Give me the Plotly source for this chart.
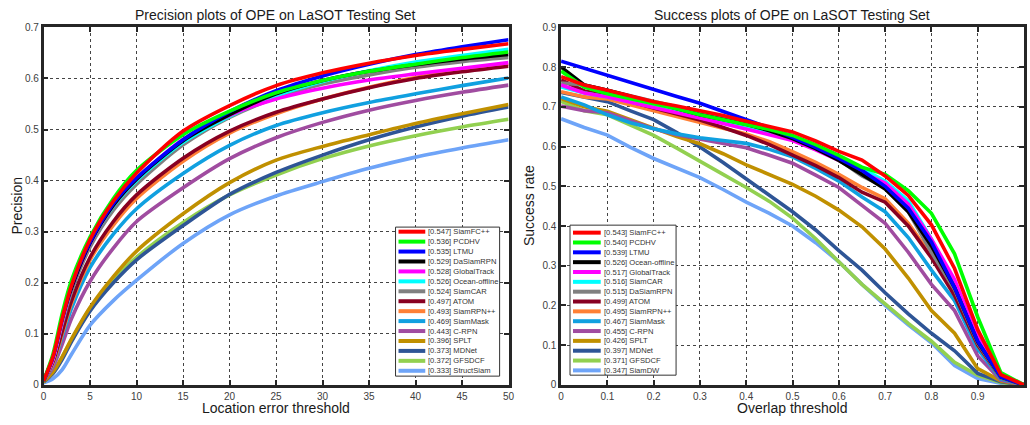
import plotly.graph_objects as go
from plotly.subplots import make_subplots

W, H = 1030, 425

# ---------------- Precision plot data ----------------
prec_x = [0, 1, 2, 3, 5, 7.5, 10, 15, 20, 25, 30, 35, 40, 45, 50]
prec_names = ["SiamFC++", "PCDHV", "LTMU", "DaSiamRPN", "GlobalTrack", "Ocean-offline",
              "SiamCAR", "ATOM", "SiamRPN++", "SiamMask", "C-RPN", "SPLT", "MDNet",
              "GFSDCF", "StructSiam"]
prec_scores = [0.547, 0.536, 0.535, 0.529, 0.528, 0.526, 0.524, 0.497, 0.493, 0.469,
               0.443, 0.396, 0.373, 0.372, 0.333]
prec_SiamFCpp = [0.008, 0.055, 0.13, 0.195, 0.285, 0.36, 0.415, 0.497, 0.547, 0.586, 0.611, 0.630, 0.645, 0.657, 0.668]
prec_PCDHV = [0.008, 0.06, 0.14, 0.205, 0.29, 0.365, 0.42, 0.490, 0.536, 0.572, 0.596, 0.614, 0.628, 0.641, 0.652]
prec_LTMU = [0.008, 0.055, 0.13, 0.195, 0.28, 0.355, 0.405, 0.480, 0.535, 0.576, 0.605, 0.628, 0.647, 0.662, 0.676]
prec_DaSiamRPN = [0.008, 0.055, 0.13, 0.19, 0.278, 0.352, 0.403, 0.478, 0.529, 0.570, 0.596, 0.614, 0.627, 0.638, 0.647]
prec_GlobalTrack = [0.008, 0.05, 0.125, 0.19, 0.277, 0.352, 0.403, 0.481, 0.528, 0.560, 0.581, 0.597, 0.609, 0.620, 0.631]
prec_Ocean = [0.008, 0.05, 0.125, 0.19, 0.277, 0.35, 0.400, 0.475, 0.526, 0.566, 0.594, 0.615, 0.632, 0.645, 0.657]
prec_SiamCAR = [0.008, 0.05, 0.12, 0.183, 0.27, 0.342, 0.393, 0.470, 0.524, 0.562, 0.589, 0.607, 0.622, 0.633, 0.641]
prec_ATOM = [0.008, 0.045, 0.105, 0.165, 0.25, 0.32, 0.372, 0.444, 0.497, 0.534, 0.560, 0.582, 0.600, 0.613, 0.624]
prec_SiamRPNpp = [0.008, 0.042, 0.10, 0.16, 0.245, 0.313, 0.365, 0.438, 0.493, 0.531, 0.560, 0.583, 0.602, 0.616, 0.628]
prec_SiamMask = [0.008, 0.04, 0.095, 0.15, 0.23, 0.295, 0.345, 0.414, 0.469, 0.508, 0.533, 0.553, 0.570, 0.586, 0.601]
prec_CRPN = [0.008, 0.035, 0.08, 0.13, 0.203, 0.268, 0.320, 0.386, 0.443, 0.484, 0.514, 0.538, 0.557, 0.573, 0.587]
prec_SPLT = [0.006, 0.025, 0.055, 0.09, 0.152, 0.212, 0.262, 0.335, 0.396, 0.440, 0.467, 0.490, 0.512, 0.531, 0.549]
prec_MDNet = [0.006, 0.022, 0.05, 0.085, 0.145, 0.20, 0.245, 0.312, 0.373, 0.416, 0.450, 0.480, 0.505, 0.526, 0.544]
prec_GFSDCF = [0.006, 0.025, 0.055, 0.088, 0.15, 0.205, 0.25, 0.318, 0.372, 0.411, 0.443, 0.468, 0.488, 0.505, 0.520]
prec_StructSiam = [0.004, 0.012, 0.03, 0.06, 0.117, 0.165, 0.205, 0.277, 0.333, 0.370, 0.398, 0.424, 0.446, 0.464, 0.480]
prec_values = [prec_SiamFCpp, prec_PCDHV, prec_LTMU, prec_DaSiamRPN, prec_GlobalTrack, prec_Ocean,
               prec_SiamCAR, prec_ATOM, prec_SiamRPNpp, prec_SiamMask, prec_CRPN, prec_SPLT,
               prec_MDNet, prec_GFSDCF, prec_StructSiam]

# ---------------- Success plot data ----------------
succ_x = [0, 0.05, 0.1, 0.15, 0.2, 0.25, 0.3, 0.35, 0.4, 0.45, 0.5, 0.55, 0.6, 0.65, 0.7,
          0.75, 0.8, 0.85, 0.9, 0.95, 1.0]
succ_names = ["SiamFC++", "PCDHV", "LTMU", "Ocean-offline", "GlobalTrack", "SiamCAR",
              "DaSiamRPN", "ATOM", "SiamRPN++", "SiamMask", "C-RPN", "SPLT", "MDNet",
              "GFSDCF", "SiamDW"]
succ_scores = [0.543, 0.540, 0.539, 0.526, 0.517, 0.516, 0.515, 0.499, 0.495, 0.467,
               0.455, 0.426, 0.397, 0.371, 0.347]
succ_SiamFCpp = [0.776, 0.755, 0.742, 0.728, 0.713, 0.702, 0.691, 0.678, 0.664, 0.651, 0.637, 0.614, 0.588, 0.566, 0.526, 0.477, 0.403, 0.293, 0.139, 0.026, 0.0]
succ_PCDHV = [0.790, 0.750, 0.733, 0.721, 0.709, 0.695, 0.680, 0.668, 0.656, 0.643, 0.628, 0.605, 0.578, 0.548, 0.530, 0.489, 0.432, 0.330, 0.171, 0.031, 0.0]
succ_LTMU = [0.815, 0.797, 0.778, 0.760, 0.743, 0.726, 0.709, 0.689, 0.668, 0.647, 0.623, 0.598, 0.570, 0.540, 0.500, 0.445, 0.360, 0.245, 0.110, 0.020, 0.0]
succ_Ocean = [0.800, 0.755, 0.742, 0.726, 0.710, 0.695, 0.680, 0.668, 0.656, 0.640, 0.620, 0.595, 0.565, 0.530, 0.493, 0.436, 0.350, 0.245, 0.108, 0.020, 0.0]
succ_GlobalTrack = [0.755, 0.735, 0.725, 0.712, 0.700, 0.685, 0.672, 0.658, 0.645, 0.630, 0.615, 0.592, 0.565, 0.535, 0.508, 0.455, 0.367, 0.265, 0.122, 0.026, 0.0]
succ_SiamCAR = [0.750, 0.735, 0.725, 0.713, 0.702, 0.688, 0.673, 0.660, 0.650, 0.636, 0.620, 0.598, 0.575, 0.545, 0.513, 0.464, 0.367, 0.253, 0.110, 0.020, 0.0]
succ_DaSiamRPN = [0.760, 0.755, 0.742, 0.728, 0.713, 0.698, 0.685, 0.672, 0.660, 0.642, 0.623, 0.597, 0.567, 0.526, 0.497, 0.436, 0.334, 0.240, 0.105, 0.018, 0.0]
succ_ATOM = [0.768, 0.740, 0.729, 0.712, 0.697, 0.682, 0.667, 0.648, 0.628, 0.605, 0.579, 0.552, 0.522, 0.485, 0.460, 0.400, 0.320, 0.225, 0.100, 0.018, 0.0]
succ_SiamRPNpp = [0.738, 0.725, 0.720, 0.705, 0.689, 0.675, 0.660, 0.646, 0.632, 0.612, 0.587, 0.560, 0.530, 0.497, 0.469, 0.407, 0.326, 0.232, 0.100, 0.018, 0.0]
succ_SiamMask = [0.725, 0.705, 0.680, 0.660, 0.645, 0.632, 0.622, 0.615, 0.608, 0.593, 0.574, 0.545, 0.513, 0.473, 0.436, 0.371, 0.289, 0.212, 0.090, 0.015, 0.0]
succ_CRPN = [0.702, 0.690, 0.685, 0.665, 0.645, 0.630, 0.619, 0.608, 0.597, 0.578, 0.558, 0.528, 0.497, 0.452, 0.407, 0.334, 0.253, 0.187, 0.073, 0.012, 0.0]
succ_SPLT = [0.721, 0.700, 0.689, 0.667, 0.645, 0.625, 0.607, 0.582, 0.554, 0.530, 0.505, 0.475, 0.440, 0.398, 0.342, 0.269, 0.187, 0.130, 0.041, 0.010, 0.0]
succ_MDNet = [0.736, 0.725, 0.713, 0.690, 0.668, 0.635, 0.599, 0.560, 0.518, 0.478, 0.436, 0.390, 0.338, 0.289, 0.232, 0.179, 0.130, 0.086, 0.029, 0.008, 0.0]
succ_GFSDCF = [0.714, 0.690, 0.680, 0.655, 0.628, 0.596, 0.562, 0.530, 0.497, 0.462, 0.420, 0.368, 0.310, 0.253, 0.204, 0.155, 0.110, 0.057, 0.024, 0.006, 0.0]
succ_SiamDW = [0.670, 0.648, 0.629, 0.598, 0.570, 0.546, 0.522, 0.492, 0.460, 0.432, 0.400, 0.358, 0.310, 0.253, 0.200, 0.151, 0.106, 0.049, 0.016, 0.004, 0.0]
succ_values = [succ_SiamFCpp, succ_PCDHV, succ_LTMU, succ_Ocean, succ_GlobalTrack, succ_SiamCAR,
               succ_DaSiamRPN, succ_ATOM, succ_SiamRPNpp, succ_SiamMask, succ_CRPN, succ_SPLT,
               succ_MDNet, succ_GFSDCF, succ_SiamDW]

# rank colours (same order in both panels)
colors = ["#FF0000", "#00FF00", "#0000FF", "#000000", "#FF00FF", "#00FFFF", "#808080",
          "#880022", "#FF8035", "#10A0E0", "#A04CA0", "#C09000", "#2E5596", "#92D050",
          "#6EA4F8"]

prec_xticks = [0, 5, 10, 15, 20, 25, 30, 35, 40, 45, 50]
prec_yticks = [0, 0.1, 0.2, 0.3, 0.4, 0.5, 0.6, 0.7]
succ_xticks = [0, 0.1, 0.2, 0.3, 0.4, 0.5, 0.6, 0.7, 0.8, 0.9, 1.0]
succ_xticklabels = ["0", "0.1", "0.2", "0.3", "0.4", "0.5", "0.6", "0.7", "0.8", "0.9", ""]
succ_yticks = [0, 0.1, 0.2, 0.3, 0.4, 0.5, 0.6, 0.7, 0.8, 0.9]

FONT = "Liberation Sans, Arial, Helvetica, sans-serif"

fig = make_subplots(rows=1, cols=2)

LW = 3.6
for i in reversed(range(len(prec_names))):
    fig.add_trace(go.Scatter(x=prec_x, y=prec_values[i], mode="lines",
                             line=dict(color=colors[i], width=LW, shape="spline", smoothing=0.8),
                             name=prec_names[i], showlegend=False, hoverinfo="skip"), row=1, col=1)
for i in reversed(range(len(succ_names))):
    fig.add_trace(go.Scatter(x=succ_x, y=succ_values[i], mode="lines",
                             line=dict(color=colors[i], width=LW),
                             name=succ_names[i], showlegend=False, hoverinfo="skip"), row=1, col=2)

def px2x(px):
    return px / W

def px2y(py):
    return 1 - py / H

axis_common = dict(showline=True, linewidth=2.5, linecolor="#262626", mirror="allticks",
                   ticks="inside", ticklen=5, tickwidth=2, tickcolor="#262626",
                   showgrid=True, gridcolor="#444444", gridwidth=1, griddash="dot",
                   zeroline=False, tickfont=dict(family=FONT, size=10, color="#404040"))

fig.update_xaxes(range=[0, 50], tickvals=prec_xticks, ticktext=[str(v) for v in prec_xticks],
                 domain=[px2x(41), px2x(510)], row=1, col=1, **axis_common)
fig.update_yaxes(range=[0, 0.7], tickvals=prec_yticks, ticktext=[("%g" % v) for v in prec_yticks],
                 domain=[px2y(390), px2y(23)], row=1, col=1, **axis_common)
fig.update_xaxes(range=[0, 1], tickvals=succ_xticks, ticktext=succ_xticklabels,
                 domain=[px2x(563), 1.0], row=1, col=2, **axis_common)
fig.update_yaxes(range=[0, 0.9], tickvals=succ_yticks, ticktext=[("%g" % v) for v in succ_yticks],
                 domain=[px2y(390), px2y(23)], row=1, col=2, **axis_common)

shapes = []
annotations = []

def add_legend(names, scores, box, line_x0, line_x1, text_x, row0_y, dy):
    x0, y0, x1, y1 = box
    shapes.append(dict(type="rect", xref="paper", yref="paper",
                       x0=px2x(x0), x1=px2x(x1), y0=px2y(y1), y1=px2y(y0),
                       fillcolor="white", line=dict(color="#333333", width=1)))
    for i, (n, s) in enumerate(zip(names, scores)):
        yy = row0_y + i * dy
        shapes.append(dict(type="line", xref="paper", yref="paper",
                           x0=px2x(line_x0), x1=px2x(line_x1), y0=px2y(yy), y1=px2y(yy),
                           line=dict(color=colors[i], width=4)))
        annotations.append(dict(xref="paper", yref="paper", x=px2x(text_x), y=px2y(yy),
                                text="[%.3f] %s" % (s, n), showarrow=False,
                                xanchor="left", yanchor="middle",
                                font=dict(family=FONT, size=7.6, color="#333333")))

add_legend(prec_names, prec_scores, (396, 228, 501, 381), 399, 426, 427, 232.7, 10.2)
add_legend(succ_names, succ_scores, (572, 226, 679, 380), 575, 603, 604, 233.7, 10.1)

def text(x, y, s, size=14, angle=0):
    annotations.append(dict(xref="paper", yref="paper", x=px2x(x), y=px2y(y), text=s,
                            showarrow=False, xanchor="center", yanchor="middle", textangle=angle,
                            font=dict(family=FONT, size=size, color="#1a1a1a")))

text(275, 10, "Precision plots of OPE on LaSOT Testing Set")
text(796, 10, "Success plots of OPE on LaSOT Testing Set")
text(275, 414, "Location error threshold")
text(796, 414, "Overlap threshold")
text(14, 206, "Precision", angle=-90)
text(530, 206, "Success rate", angle=-90)

fig.update_layout(width=W, height=H, margin=dict(l=0, r=0, t=0, b=0),
                  paper_bgcolor="white", plot_bgcolor="white", hovermode=False,
                  shapes=shapes, annotations=annotations, showlegend=False)

fig.write_html("out.html", config={"displayModeBar": False},
               post_script="document.body.style.margin='0';document.body.style.overflow='hidden';")
